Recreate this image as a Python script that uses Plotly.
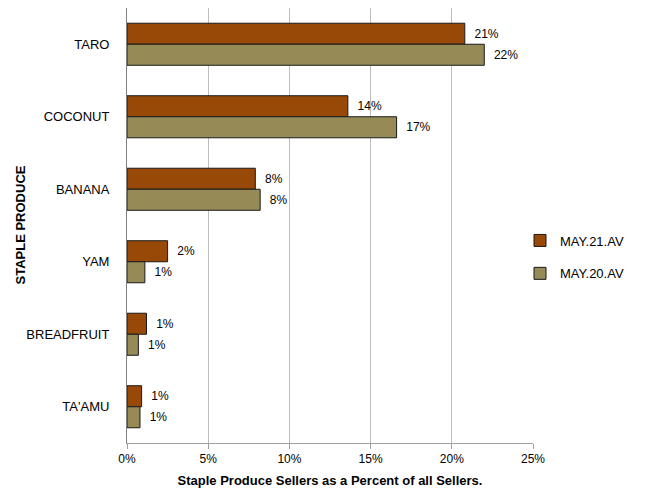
import plotly.graph_objects as go

categories = ["TARO", "COCONUT", "BANANA", "YAM", "BREADFRUIT", "TA'AMU"]
may21 = [20.8, 13.6, 7.9, 2.5, 1.2, 0.9]
may20 = [22.0, 16.6, 8.2, 1.1, 0.7, 0.8]
may21_labels = ["21%", "14%", "8%", "2%", "1%", "1%"]
may20_labels = ["22%", "17%", "8%", "1%", "1%", "1%"]
x_ticks = [0, 5, 10, 15, 20, 25]
x_tick_labels = ["0%", "5%", "10%", "15%", "20%", "25%"]

FONT = "Liberation Sans Narrow, Liberation Sans, sans-serif"
# page body has an 8px offset; margins compensate so the plot area lands at screen 127..533, 8..443
W, H = 647, 496
L_SCREEN, T_SCREEN = 127, 8
L, T = 119, 0
PW, PH = 406, 435
R, B = W - L - PW, H - T - PH

fig = go.Figure()
fig.add_trace(go.Bar(
    y=categories, x=may21, name="MAY.21.AV", orientation="h", legendgroup="a",
    marker=dict(color="#984807", line=dict(color="#1a1a1a", width=1)),
    text=may21_labels, texttemplate="  %{text}", textposition="outside", cliponaxis=False,
    textfont=dict(family=FONT, size=12, color="#000"),
))
fig.add_trace(go.Bar(
    y=categories, x=may20, name="MAY.20.AV", orientation="h", legendgroup="b",
    marker=dict(color="#968B56", line=dict(color="#1a1a1a", width=1)),
    text=may20_labels, texttemplate="  %{text}", textposition="outside", cliponaxis=False,
    textfont=dict(family=FONT, size=12, color="#000"),
))

fig.update_layout(
    width=W, height=H,
    margin=dict(l=L, r=R, t=T, b=B, autoexpand=False),
    barmode="group", bargap=0.42, bargroupgap=0,
    plot_bgcolor="white", paper_bgcolor="white",
    font=dict(family=FONT, size=13, color="#000"),
    legend=dict(x=(520 - L_SCREEN) / PW, y=1 - (257 - T_SCREEN) / PH,
                xanchor="left", yanchor="middle",
                font=dict(family=FONT, size=13), tracegroupgap=13,
                itemwidth=30, bgcolor="rgba(0,0,0,0)"),
    xaxis=dict(range=[0, 25], tickvals=x_ticks, ticktext=x_tick_labels,
               automargin=False,
               showgrid=True, gridcolor="#BDBDBD", gridwidth=1,
               showline=True, linecolor="#A0A0A0", ticks="outside",
               tickcolor="#A0A0A0", ticklen=5, zeroline=False,
               tickfont=dict(size=12),
               title=dict(text="<b>Staple Produce Sellers as a Percent of all Sellers.</b>",
                          font=dict(size=13), standoff=10)),
    yaxis=dict(autorange="reversed", showline=True, linecolor="#808080",
               automargin=False,
               ticks="", ticklabelstandoff=14, tickfont=dict(size=13)),
    annotations=[dict(text="<b>STAPLE PRODUCE</b>", xref="paper", yref="paper",
                      x=(20 - L_SCREEN) / PW, y=0.5, xanchor="center", yanchor="middle",
                      textangle=-90, showarrow=False,
                      font=dict(family=FONT, size=13))],
    shapes=[dict(type="line", xref="paper", yref="paper",
                 x0=(651 - L_SCREEN) / PW, x1=(651 - L_SCREEN) / PW,
                 y0=-B / PH, y1=1 + 2 / PH,
                 line=dict(color="#000", width=2))],
)

fig.write_html("out.html")
